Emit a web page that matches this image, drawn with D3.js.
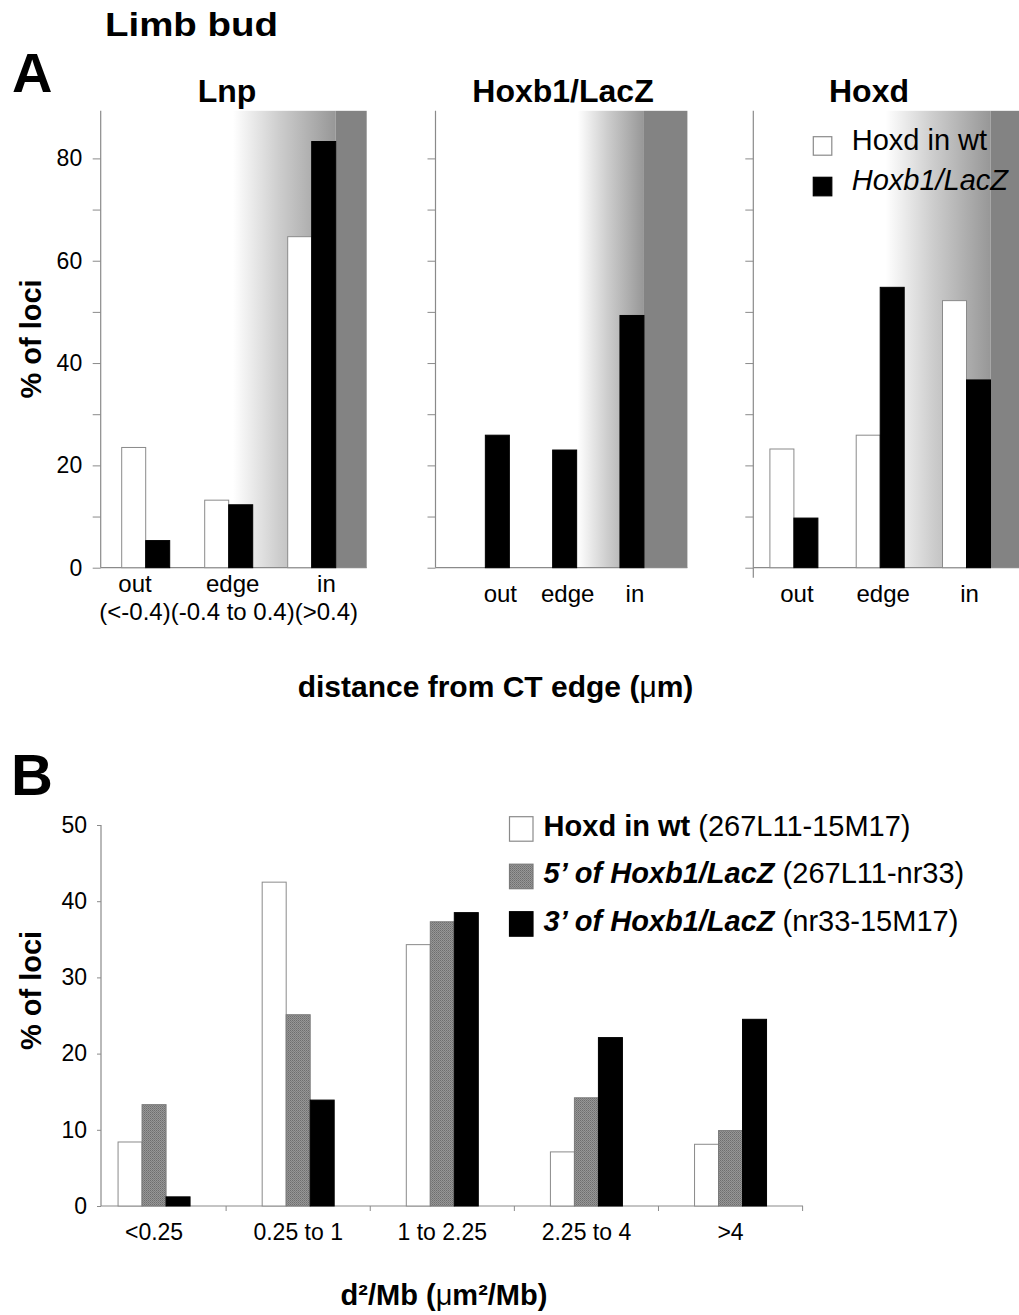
<!DOCTYPE html>
<html><head><meta charset="utf-8">
<script src="https://cdn.jsdelivr.net/npm/d3@7"></script>
<style>
body{margin:0;background:#fff}
svg text{font-family:"Liberation Sans",Arial,Helvetica,sans-serif;fill:#000}
</style>
</head><body>
<svg id="chart" width="1019" height="1315"></svg>
<script>
// ---------- DATA ----------
const zoneCategories = ["out", "edge", "in"];
const zoneRanges = ["(<-0.4)", "(-0.4 to 0.4)", "(>0.4)"];
const panelTitles = ["Lnp", "Hoxb1/LacZ", "Hoxd"];
const lnpWt = [23.5, 13.2, 64.7];
const lnpLacZ = [5.3, 12.3, 83.3];
const hoxb1LacZ = [25.9, 23.0, 49.3];
const hoxdWt = [23.2, 25.9, 52.2];
const hoxdLacZ = [9.7, 54.8, 36.7];
const panelATicks = [0, 10, 20, 30, 40, 50, 60, 70, 80];
const panelATickLabels = [0, 20, 40, 60, 80];
const legendALabels = ["Hoxd in wt", "Hoxb1/LacZ"];

const distCategories = ["<0.25", "0.25 to 1", "1 to 2.25", "2.25 to 4", ">4"];
const wtSeries = [8.4, 42.5, 34.3, 7.1, 8.1];
const fivePrimeSeries = [13.3, 25.1, 37.3, 14.2, 9.9];
const threePrimeSeries = [1.2, 13.9, 38.5, 22.1, 24.5];
const panelBTicks = [0, 10, 20, 30, 40, 50];
const legendBBold = ["Hoxd in wt", "5\u2019 of Hoxb1/LacZ", "3\u2019 of Hoxb1/LacZ"];
const legendBRegion = [" (267L11-15M17)", " (267L11-nr33)", " (nr33-15M17)"];

// ---------- SETUP ----------
const svg = d3.select("#chart");
const AXIS = "#8a8a8a";
const defs = svg.append("defs");
const grad = defs.append("linearGradient").attr("id", "shade").attr("x1", "0").attr("x2", "1").attr("y1", "0").attr("y2", "0");
grad.append("stop").attr("offset", "0").attr("stop-color", "#ffffff");
grad.append("stop").attr("offset", "0.45").attr("stop-color", "#cdcdcd");
grad.append("stop").attr("offset", "1").attr("stop-color", "#979797");
const pat = defs.append("pattern").attr("id", "dots").attr("width", 2).attr("height", 2).attr("patternUnits", "userSpaceOnUse");
pat.append("rect").attr("width", 2).attr("height", 2).attr("fill", "#979797");
pat.append("rect").attr("width", 1).attr("height", 1).attr("fill", "#6e6e6e");
pat.append("rect").attr("x", 1).attr("y", 1).attr("width", 1).attr("height", 1).attr("fill", "#7d7d7d");

const styles = {
  white: {fill: "#ffffff", stroke: "#8a8a8a"},
  black: {fill: "#000000", stroke: "#000000"},
  gray: {fill: "url(#dots)", stroke: "#7a7a7a"}
};

// ---------- PANEL A ----------
const yA = d3.scaleLinear().domain([0, 80]).range([567.7, 158.4]);
const yATop = 89.3;
const BAR_A = 24;

const panels = [
  {title: panelTitles[0], titleX: 227, axisX: 100.7, band: [104.2, 353.2], right: 366.7, shadeStart: 233,
   series: [{key: "wt", vals: lnpWt, s: "white"}, {key: "lacz", vals: lnpLacZ, s: "black"}], labels: true, ext: 0},
  {title: panelTitles[1], titleX: 563, axisX: 435.5, band: [463.7, 665.6], right: 687.4, shadeStart: 577.7,
   series: [{key: "lacz", vals: hoxb1LacZ, s: "black"}], labels: false, ext: 0},
  {title: panelTitles[2], titleX: 869, axisX: 753.3, band: [750.75, 1009.65], right: 1019, shadeStart: 885.6,
   series: [{key: "wt", vals: hoxdWt, s: "white"}, {key: "lacz", vals: hoxdLacZ, s: "black"}], labels: false, ext: 10}
];

panels.forEach((p, pi) => {
  const g = svg.append("g");
  const x = d3.scaleBand().domain(zoneCategories).range(p.band);
  const n = p.series.length;
  const x1 = d3.scaleBand().domain(p.series.map(s => s.key)).range([0, BAR_A * n]);
  const groupLeft = c => x(c) + x.bandwidth() / 2 - (BAR_A * n) / 2;
  const lastRight = groupLeft(zoneCategories[zoneCategories.length - 1]) + BAR_A * n;

  // shading (gradient then flat)
  g.append("rect").attr("x", p.shadeStart).attr("y", yA(yATop))
    .attr("width", lastRight - p.shadeStart).attr("height", yA(0) - yA(yATop)).attr("fill", "url(#shade)");
  g.append("rect").attr("x", lastRight).attr("y", yA(yATop))
    .attr("width", p.right - lastRight).attr("height", yA(0) - yA(yATop)).attr("fill", "#838383");

  // y axis ticks
  const ax = d3.axisLeft(yA).tickValues(panelATicks).tickSize(8).tickSizeOuter(0).tickPadding(10.5)
    .tickFormat(d => (p.labels && panelATickLabels.includes(d)) ? d : "");
  const axG = g.append("g").attr("transform", `translate(${p.axisX},0)`).call(ax);
  axG.select(".domain").remove();
  axG.selectAll("line").attr("stroke", AXIS);
  axG.selectAll("text").attr("font-size", 23).attr("fill", "#000").style("font-family", "'Liberation Sans',Arial,sans-serif");

  // axis lines
  g.append("line").attr("x1", p.axisX).attr("x2", p.axisX).attr("y1", yA(yATop)).attr("y2", yA(0) + p.ext)
    .attr("stroke", AXIS).attr("stroke-width", 1.2);
  g.append("line").attr("x1", p.axisX).attr("x2", p.right).attr("y1", yA(0)).attr("y2", yA(0))
    .attr("stroke", AXIS).attr("stroke-width", 1.2);

  // bars
  p.series.forEach(s => {
    g.selectAll(null).data(zoneCategories).enter().append("rect")
      .attr("x", c => groupLeft(c) + x1(s.key))
      .attr("y", (c, i) => yA(s.vals[i]))
      .attr("width", x1.bandwidth())
      .attr("height", (c, i) => yA(0) - yA(s.vals[i]))
      .attr("fill", styles[s.s].fill).attr("stroke", styles[s.s].stroke).attr("stroke-width", 1);
  });

  // title
  g.append("text").attr("x", p.titleX).attr("y", 101.5).attr("text-anchor", "middle")
    .attr("font-size", 32).attr("font-weight", "bold").text(p.title);

  // category labels
  if (p.labels) {
    const parenTexts = zoneRanges.map(r => g.append("text").attr("y", 620).attr("font-size", 24).text(r));
    const widths = parenTexts.map(t => t.node().getComputedTextLength());
    let start = (p.band[0] + p.band[1]) / 2 - d3.sum(widths) / 2;
    parenTexts.forEach((t, i) => {
      t.attr("x", start);
      g.append("text").attr("x", start + widths[i] / 2).attr("y", 592).attr("text-anchor", "middle")
        .attr("font-size", 24).text(zoneCategories[i]);
      start += widths[i];
    });
  } else {
    g.selectAll(null).data(zoneCategories).enter().append("text")
      .attr("x", c => x(c) + x.bandwidth() / 2 + 3).attr("y", 602).attr("text-anchor", "middle")
      .attr("font-size", 24).text(c => c);
  }
});

// legend A
[["white", 136.7, 150, "normal"], ["black", 177.3, 190, "italic"]].forEach((d, i) => {
  svg.append("rect").attr("x", 813.3).attr("y", d[1]).attr("width", 18.5).attr("height", 18.5)
    .attr("fill", styles[d[0]].fill).attr("stroke", styles[d[0]].stroke).attr("stroke-width", 1.2);
  svg.append("text").attr("x", 851.7).attr("y", d[2]).attr("font-size", 29).attr("font-style", d[3]).text(legendALabels[i]);
});

// titles A
svg.append("text").attr("x", 105).attr("y", 36).attr("font-size", 33).attr("font-weight", "bold")
  .attr("textLength", 173).attr("lengthAdjust", "spacingAndGlyphs").text("Limb bud");
svg.append("text").attr("x", 12).attr("y", 92).attr("font-size", 56).attr("font-weight", "bold").text("A");
svg.append("text").attr("transform", "translate(41,339) rotate(-90)").attr("text-anchor", "middle")
  .attr("font-size", 29).attr("font-weight", "bold").text("% of loci");
const xtA = svg.append("text").attr("x", 495.5).attr("y", 697).attr("text-anchor", "middle")
  .attr("font-size", 30).attr("font-weight", "bold");
xtA.append("tspan").text("distance from CT edge (");
xtA.append("tspan").attr("font-weight", "normal").text("\u03bc");
xtA.append("tspan").text("m)");

// ---------- PANEL B ----------
const yB = d3.scaleLinear().domain([0, 50]).range([1206, 825]);
const xB = d3.scaleBand().domain(distCategories).range([82, 802.6]);
const seriesB = [
  {key: "wt", vals: wtSeries, s: "white"},
  {key: "five", vals: fivePrimeSeries, s: "gray"},
  {key: "three", vals: threePrimeSeries, s: "black"}
];
const BAR_B = 24;
const x1B = d3.scaleBand().domain(seriesB.map(s => s.key)).range([0, BAR_B * seriesB.length]);
const gB = svg.append("g");
const axisBX = 101;

const axB = d3.axisLeft(yB).tickValues(panelBTicks).tickSize(4).tickSizeOuter(0).tickPadding(10);
const axBG = gB.append("g").attr("transform", `translate(${axisBX},0)`).call(axB);
axBG.select(".domain").remove();
axBG.selectAll("line").attr("stroke", AXIS);
axBG.selectAll("text").attr("font-size", 23).attr("fill", "#000").style("font-family", "'Liberation Sans',Arial,sans-serif");
gB.append("line").attr("x1", axisBX).attr("x2", axisBX).attr("y1", yB(50)).attr("y2", yB(0)).attr("stroke", AXIS).attr("stroke-width", 1.2);
gB.append("line").attr("x1", axisBX).attr("x2", 803).attr("y1", yB(0)).attr("y2", yB(0)).attr("stroke", AXIS).attr("stroke-width", 1.2);

// boundary ticks on x axis
const boundaries = distCategories.slice(1).map(c => xB(c)).concat([xB.range()[1]]);
gB.selectAll(null).data(boundaries).enter().append("line")
  .attr("x1", d => d).attr("x2", d => d).attr("y1", yB(0)).attr("y2", yB(0) + 5).attr("stroke", AXIS);

// x labels
const axBx = d3.axisBottom(xB).tickSize(0).tickPadding(17.5);
const axBxG = gB.append("g").attr("transform", `translate(0,${yB(0)})`).call(axBx);
axBxG.select(".domain").remove();
axBxG.selectAll("text").attr("font-size", 23).attr("fill", "#000").style("font-family", "'Liberation Sans',Arial,sans-serif");

// bars
seriesB.forEach(s => {
  gB.selectAll(null).data(distCategories).enter().append("rect")
    .attr("x", c => xB(c) + xB.bandwidth() / 2 - x1B.range()[1] / 2 + x1B(s.key))
    .attr("y", (c, i) => yB(s.vals[i]))
    .attr("width", x1B.bandwidth())
    .attr("height", (c, i) => yB(0) - yB(s.vals[i]))
    .attr("fill", styles[s.s].fill).attr("stroke", styles[s.s].stroke).attr("stroke-width", 1);
});

// legend B
seriesB.forEach((s, i) => {
  const yTop = 816.7 + i * 47.5;
  svg.append("rect").attr("x", 509.5).attr("y", yTop).attr("width", 23.5).attr("height", 24.5)
    .attr("fill", styles[s.s].fill).attr("stroke", styles[s.s].stroke).attr("stroke-width", 1.2);
  const t = svg.append("text").attr("x", 543.6).attr("y", yTop + 19).attr("font-size", 29);
  t.append("tspan").attr("font-weight", "bold").attr("font-style", i === 0 ? "normal" : "italic").text(legendBBold[i]);
  t.append("tspan").text(legendBRegion[i]);
});

svg.append("text").attr("x", 11).attr("y", 795).attr("font-size", 58).attr("font-weight", "bold").text("B");
svg.append("text").attr("transform", "translate(41,990.5) rotate(-90)").attr("text-anchor", "middle")
  .attr("font-size", 29).attr("font-weight", "bold").text("% of loci");
const xtB = svg.append("text").attr("x", 444).attr("y", 1305).attr("text-anchor", "middle")
  .attr("font-size", 29).attr("font-weight", "bold");
xtB.append("tspan").text("d\u00b2/Mb (");
xtB.append("tspan").attr("font-weight", "normal").text("\u03bc");
xtB.append("tspan").text("m\u00b2/Mb)");
</script>
</body></html>
